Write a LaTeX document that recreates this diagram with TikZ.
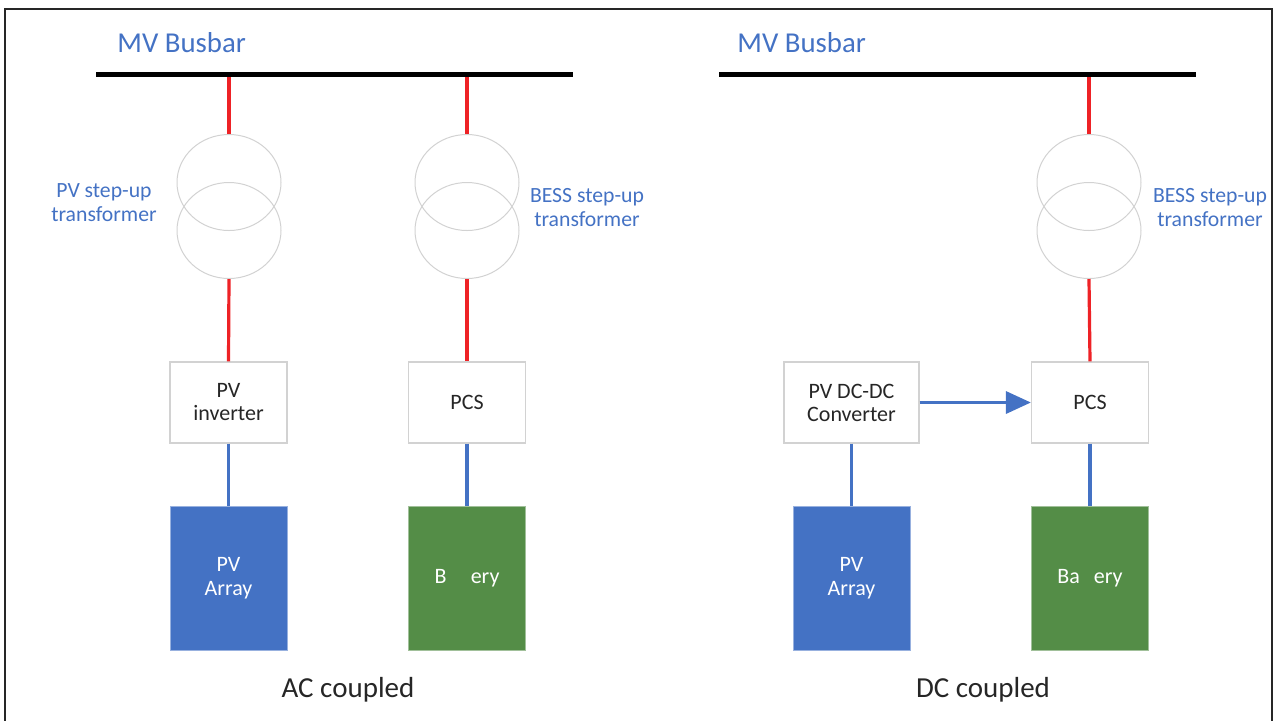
\documentclass[tikz,border=0pt]{standalone}
\usepackage{fontspec}
\setmainfont{Carlito}
\usetikzlibrary{arrows.meta, shapes.geometric}
\definecolor{busblue}{RGB}{68,114,196}
\definecolor{batgreen}{RGB}{84,141,71}
\definecolor{acred}{RGB}{238,34,38}
\definecolor{inkgray}{RGB}{38,38,38}
\definecolor{rimgray}{RGB}{210,210,210}

\begin{document}
\begin{tikzpicture}[x=0.5pt, y=-0.5pt,
  box/.style={draw=rimgray, line width=0.6pt, fill=white, minimum width=58.5pt, minimum height=40.5pt, inner sep=0pt, align=center, text=inkgray, font=\fontsize{11}{11.5}\selectfont},
  block/.style={draw=#1!55!white, fill=#1, line width=0.5pt, minimum width=58.5pt, minimum height=72pt, inner sep=0pt, align=center, text=white, font=\fontsize{11}{12}\selectfont},
  coil/.style={ellipse, draw=rimgray, line width=0.5pt, minimum width=52pt, minimum height=48pt, inner sep=0pt},
  ac/.style={acred, line width=1.6pt},
  dc/.style={busblue, line width=1.7pt},
  bus/.style={black, line width=2.5pt},
  tag/.style={text=busblue, align=center, font=\fontsize{10.85}{12}\selectfont},
  title/.style={anchor=base west, inner sep=0pt, text=busblue, font=\fontsize{14.4}{16}\selectfont},
  caption/.style={text=inkgray, font=\fontsize{14.5}{16}\selectfont}]
\useasboundingbox (0,0) rectangle (1275,720);
\draw[inkgray, line width=1pt] (5,726) -- (5,9) -- (1272,9) -- (1272,726);

\node[title] (busTagA) at (117,52) {MV Busbar};
\node[title] (busTagB) at (737,52) {MV Busbar};

\coordinate (busAw) at (96,74);
\coordinate (busAe) at (573,74);
\coordinate (busBw) at (719,74);
\coordinate (busBe) at (1196,74);
\coordinate (tapPv) at (229,74);
\coordinate (tapBessA) at (467,74);
\coordinate (tapBessB) at (1089,74);

\node[coil] (pvTxHi) at (229,182.5) {};
\node[coil] (pvTxLo) at (229,230.5) {};
\node[coil] (bessTxHiA) at (467,182.5) {};
\node[coil] (bessTxLoA) at (467,230.5) {};
\node[coil] (bessTxHiB) at (1089,182.5) {};
\node[coil] (bessTxLoB) at (1089,230.5) {};

\node[tag] (pvTxTag) at (104,203) {PV step-up\\transformer};
\node[tag] (bessTxTagA) at (587,208) {BESS step-up\\transformer};
\node[tag] (bessTxTagB) at (1210,208) {BESS step-up\\transformer};

\node[box] (pvInv) at (228.5,402.5) {PV\\inverter};
\node[box] (pcsA) at (467,402.5) {PCS};
\node[box, minimum width=67.5pt] (pvConv) at (851.5,402.5) {PV DC-DC\\Converter};
\node[box] (pcsB) at (1090,402.5) {PCS};

\node[block=busblue] (pvArrA) at (228.5,578) {PV\\Array};
\node[block=batgreen] (batA) at (467,578) {B\phantom{att}ery};
\node[block=busblue] (pvArrB) at (851.5,578) {PV\\Array};
\node[block=batgreen] (batB) at (1090,578) {Ba\phantom{tt}ery};

\draw[ac] (tapPv) -- (pvTxHi.north);
\draw[ac] (pvTxLo.south) -- (pvInv.north);
\draw[ac] (tapBessA) -- (bessTxHiA.north);
\draw[ac] (bessTxLoA.south) -- (pcsA.north);
\draw[ac] (tapBessB) -- (bessTxHiB.north);
\draw[ac] (bessTxLoB.south) -- (pcsB.north);

\draw[bus] (busAw) -- (busAe);
\draw[bus] (busBw) -- (busBe);

\draw[dc] (pvInv.south) -- (pvArrA.north);
\draw[dc] (pcsA.south) -- (batA.north);
\draw[dc] (pvConv.south) -- (pvArrB.north);
\draw[dc] (pcsB.south) -- (batB.north);
\draw[dc, -{Triangle[length=12.5pt, width=11pt]}] (pvConv.east) -- (pcsB.west);

\node[caption] (acTag) at (348,690) {AC coupled};
\node[caption] (dcTag) at (983,690) {DC coupled};
\end{tikzpicture}
\end{document}
